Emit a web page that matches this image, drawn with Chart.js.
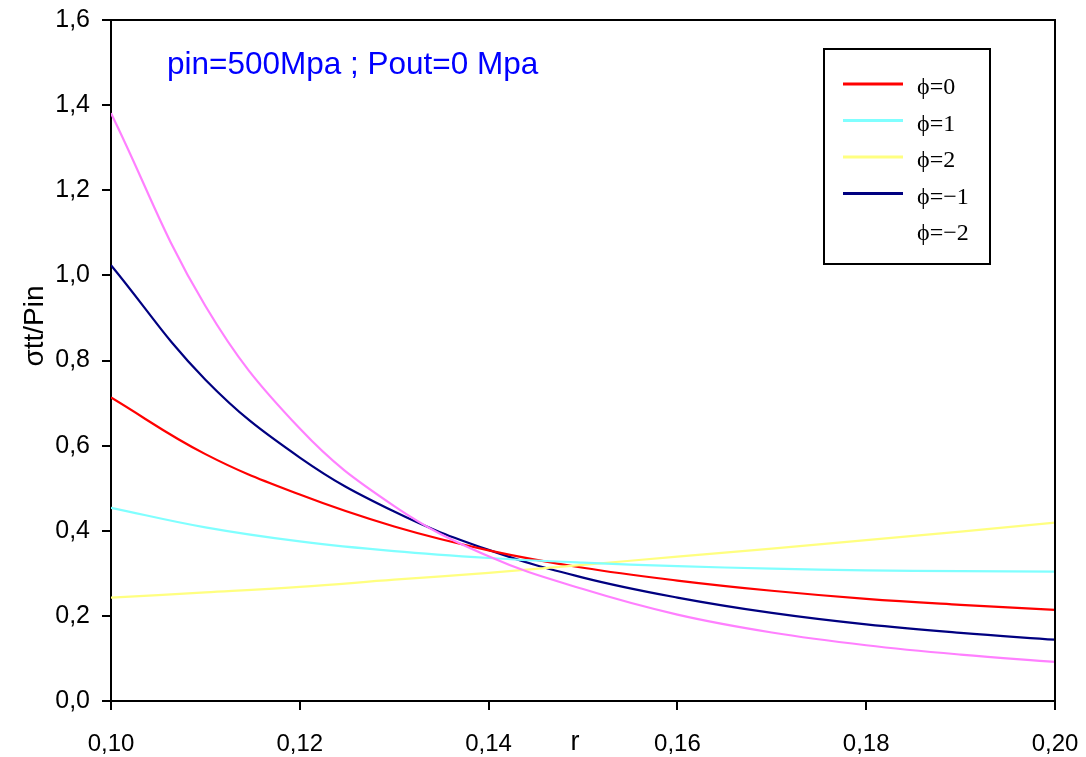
<!DOCTYPE html>
<html><head><meta charset="utf-8">
<script src="https://cdn.jsdelivr.net/npm/chart.js@4.4.1/dist/chart.umd.min.js"></script>
<style>html,body{margin:0;padding:0;background:#fff;}</style>
</head><body>
<canvas id="c" width="1086" height="757"></canvas>
<script>
// ---- data ----
const radii   = [0.10, 0.11, 0.12, 0.13, 0.14, 0.15, 0.16, 0.17, 0.18, 0.19, 0.20];
const phiP0   = [0.713, 0.580, 0.485, 0.410, 0.354, 0.313, 0.283, 0.259, 0.240, 0.226, 0.214];
const phiP1   = [0.454, 0.408, 0.375, 0.352, 0.336, 0.325, 0.317, 0.311, 0.307, 0.305, 0.304];
const phiP2   = [0.243, 0.255, 0.268, 0.285, 0.301, 0.320, 0.339, 0.358, 0.378, 0.398, 0.419];
const phiM1   = [1.024, 0.755, 0.572, 0.445, 0.355, 0.290, 0.243, 0.207, 0.180, 0.160, 0.144];
const phiM2   = [1.381, 0.928, 0.640, 0.458, 0.340, 0.263, 0.203, 0.161, 0.131, 0.109, 0.092];
const seriesLabels = ['\u03D5=0', '\u03D5=1', '\u03D5=2', '\u03D5=\u22121', '\u03D5=\u22122'];
const xTicks = [0.10, 0.12, 0.14, 0.16, 0.18, 0.20];
const yTicks = [0.0, 0.2, 0.4, 0.6, 0.8, 1.0, 1.2, 1.4, 1.6];
const titleText = 'pin=500Mpa ; Pout=0 Mpa';
const yTitle = '\u03C3tt/Pin';
const xTitle = 'r';

// ---- styles ----
const lineColors   = ['#FF0000', '#80FFFF', '#FFFF80', '#000080', '#FF80FF'];
const legendColors = ['#FF0000', '#80FFFF', '#FFFF80', '#000080', '#FFFFFF'];
const allSeries = [phiP0, phiP1, phiP2, phiM1, phiM2];

const datasets = allSeries.map((vals, i) => ({
  label: seriesLabels[i],
  data: radii.map((r, k) => ({x: r, y: vals[k]})),
  borderColor: lineColors[i],
  legendColor: legendColors[i],
  borderWidth: 2.2,
  pointRadius: 0,
  fill: false,
  tension: 0.4
}));
const ordered = [datasets[4], datasets[1], datasets[2], datasets[0], datasets[3]];

const overlay = {
  id: 'overlay',
  afterDraw(chart) {
    const ctx = chart.ctx, a = chart.chartArea;
    ctx.save();
    ctx.strokeStyle = '#000';
    ctx.lineWidth = 2;
    ctx.beginPath();
    ctx.moveTo(a.left, a.top); ctx.lineTo(a.right, a.top); ctx.lineTo(a.right, a.bottom);
    ctx.stroke();
    // title text inside plot
    ctx.fillStyle = '#0000FF';
    ctx.font = '31.5px "Liberation Sans", Arial, sans-serif';
    ctx.textAlign = 'left'; ctx.textBaseline = 'middle';
    ctx.fillText(titleText, 167, 65);
    // y title
    ctx.fillStyle = '#000';
    ctx.font = '28px "Liberation Sans", Arial, sans-serif';
    ctx.save();
    ctx.translate(35, 326);
    ctx.rotate(-Math.PI / 2);
    ctx.textAlign = 'center'; ctx.textBaseline = 'middle';
    ctx.fillText(yTitle, 0, 0);
    ctx.restore();
    // x title on tick-label row
    ctx.font = '27px "Liberation Sans", Arial, sans-serif';
    ctx.textAlign = 'center'; ctx.textBaseline = 'middle';
    ctx.fillText(xTitle, 575, 743);
    // legend
    const bx = 824, by = 49, bw = 166, bh = 215;
    ctx.fillStyle = '#fff';
    ctx.fillRect(bx, by, bw, bh);
    ctx.strokeStyle = '#000'; ctx.lineWidth = 2;
    ctx.strokeRect(bx, by, bw, bh);
    ctx.font = '24px "Liberation Serif", "Times New Roman", serif';
    ctx.textAlign = 'left'; ctx.textBaseline = 'middle';
    datasets.forEach((ds, i) => {
      const y = 87 + i * 36.5;
      ctx.strokeStyle = ds.legendColor; ctx.lineWidth = 3;
      ctx.beginPath(); ctx.moveTo(843, y - 3); ctx.lineTo(903, y - 3); ctx.stroke();
      ctx.fillStyle = '#000';
      ctx.fillText(ds.label, 917, y + 1);
    });
    ctx.restore();
  }
};

const fmt = (v, d) => Number(v).toFixed(d).replace('.', ',');

new Chart(document.getElementById('c'), {
  type: 'line',
  data: { datasets: ordered },
  options: {
    responsive: false,
    devicePixelRatio: 1,
    animation: false,
    layout: { padding: { top: 20, right: 31, left: 0, bottom: 0 } },
    plugins: { legend: { display: false }, tooltip: { enabled: false } },
    scales: {
      x: {
        type: 'linear', min: xTicks[0], max: xTicks[xTicks.length - 1],
        afterBuildTicks: s => { s.ticks = xTicks.map(v => ({value: v})); },
        afterFit: s => { s.height = 56; s.paddingLeft = 0; s.paddingRight = 0; },
        ticks: { callback: v => fmt(v, 2), color: '#000', padding: 20, maxRotation: 0,
                 font: { size: 24, family: '"Liberation Sans", Arial, sans-serif' } },
        grid: { drawOnChartArea: false, drawTicks: true, tickLength: 9, color: '#000', lineWidth: 2 },
        border: { display: true, color: '#000', width: 2 }
      },
      y: {
        type: 'linear', min: yTicks[0], max: yTicks[yTicks.length - 1],
        afterBuildTicks: s => { s.ticks = yTicks.map(v => ({value: v})); },
        afterFit: s => { s.width = 111; s.paddingTop = 0; s.paddingBottom = 0; },
        ticks: { callback: v => fmt(v, 1), color: '#000', padding: 12,
                 font: { size: 25, family: '"Liberation Sans", Arial, sans-serif' } },
        grid: { drawOnChartArea: false, drawTicks: true, tickLength: 9, color: '#000', lineWidth: 2 },
        border: { display: true, color: '#000', width: 2 }
      }
    }
  },
  plugins: [overlay]
});
</script>
</body></html>
